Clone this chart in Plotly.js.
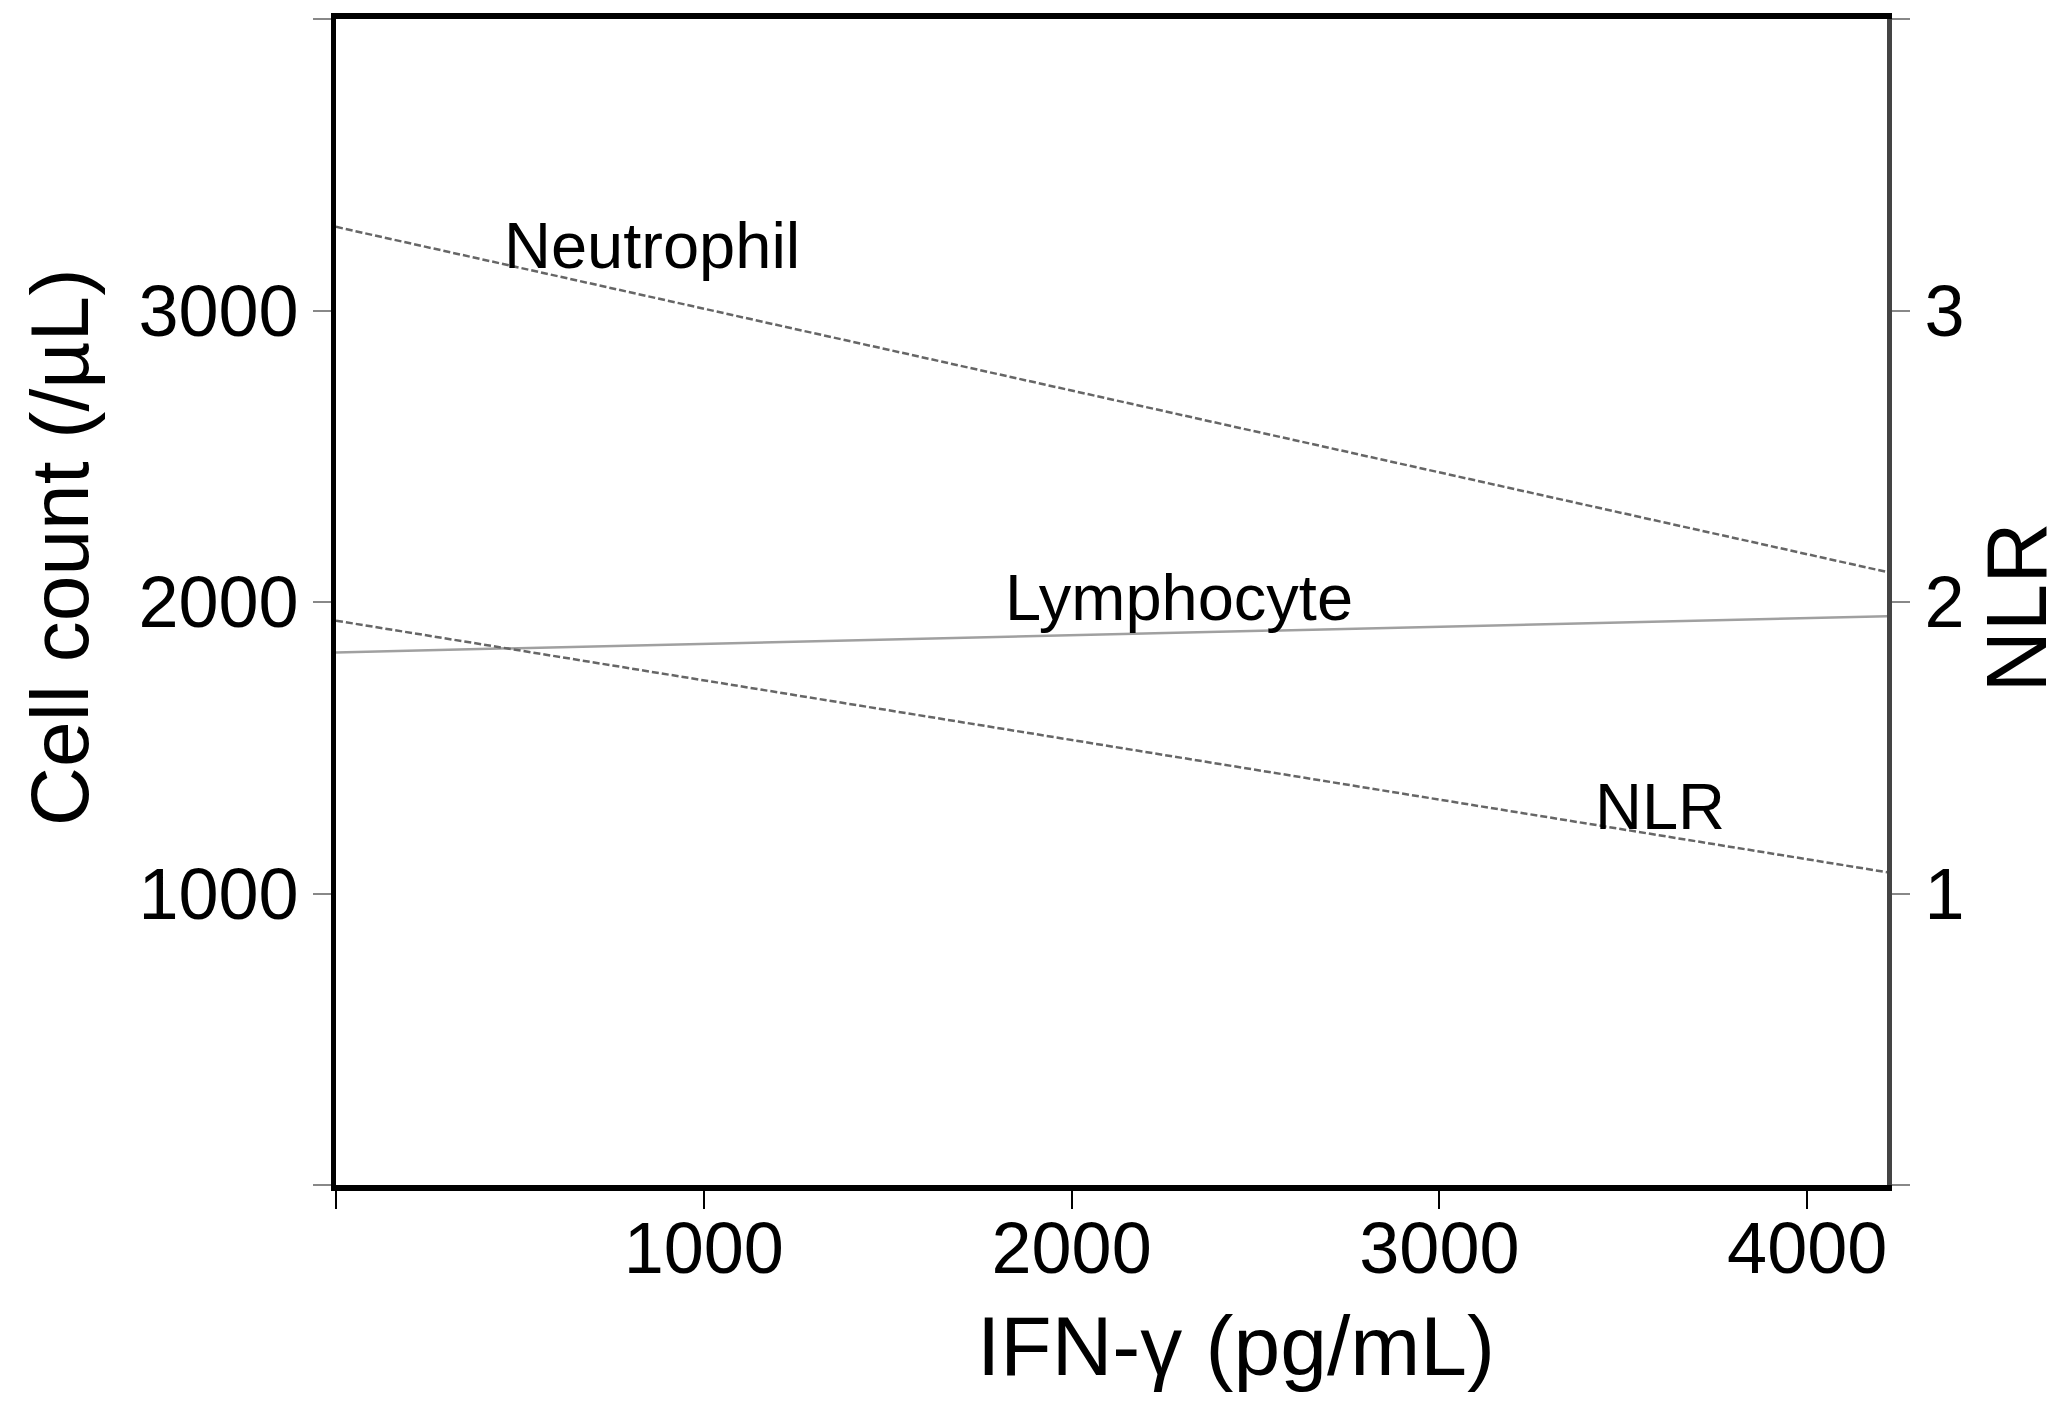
<!DOCTYPE html>
<html>
<head>
<meta charset="utf-8">
<script src="https://cdn.plot.ly/plotly-3.0.1.min.js"></script>
<style>html,body{margin:0;padding:0;background:#fff;}#chart{width:2068px;height:1408px;}</style>
</head>
<body>
<div id="chart"></div>
<script>
// Data
const ifnGamma = [0, 4217];            // IFN-γ (pg/mL), x range of the fitted lines
const neutrophil = [3287, 2103];       // cell count (/µL)
const lymphocyte = [1827, 1951];       // cell count (/µL)
const nlr = [1.936, 1.073];            // NLR (right axis)
const xTicks = [0, 1000, 2000, 3000, 4000];
const xTickText = ['', '1000', '2000', '3000', '4000'];
const yTicks = [0, 1000, 2000, 3000, 4000];
const yTickText = ['', '1000', '2000', '3000', ''];
const y2Ticks = [0, 1, 2, 3, 4];
const y2TickText = ['', '1', '2', '3', ''];
const seriesLabels = ['Neutrophil', 'Lymphocyte', 'NLR'];
const axisTitles = ['IFN-γ (pg/mL)', 'Cell count (/µL)', 'NLR'];

const FONT = 'Liberation Sans, Arial, sans-serif';

const traces = [
  {x: ifnGamma, y: neutrophil, mode: 'lines', name: seriesLabels[0],
   line: {color: '#666', width: 2.5, dash: '7px,3px'}},
  {x: ifnGamma, y: lymphocyte, mode: 'lines', name: seriesLabels[1],
   line: {color: '#a0a0a0', width: 2.5}},
  {x: ifnGamma, y: nlr, mode: 'lines', name: seriesLabels[2], yaxis: 'y2',
   line: {color: '#666', width: 2.5, dash: '7px,3px'}}
];

const layout = {
  width: 2068, height: 1408,
  paper_bgcolor: '#fff', plot_bgcolor: '#fff',
  showlegend: false,
  margin: {l: 336, r: 181, t: 19, b: 223},
  font: {family: FONT, color: '#000'},
  xaxis: {
    range: [0, 4217], tickvals: xTicks, ticktext: xTickText,
    showgrid: false, zeroline: false,
    showline: true, linecolor: '#000', linewidth: 6, mirror: true,
    ticks: 'outside', ticklen: 18, tickwidth: 2, tickcolor: '#000',
    ticklabelstandoff: -22,
    tickfont: {size: 72, family: FONT, color: '#000'}
  },
  yaxis: {
    range: [0, 4000], tickvals: yTicks, ticktext: yTickText,
    showgrid: false, zeroline: false,
    showline: true, linecolor: '#000', linewidth: 5,
    ticks: 'outside', ticklen: 18, tickwidth: 2, tickcolor: '#888',
    tickfont: {size: 72, family: FONT, color: '#000'}
  },
  yaxis2: {
    overlaying: 'y', side: 'right',
    range: [0, 4], tickvals: y2Ticks, ticktext: y2TickText,
    showgrid: false, zeroline: false,
    showline: true, linecolor: '#444', linewidth: 5,
    ticks: 'outside', ticklen: 18, tickwidth: 2, tickcolor: '#888',
    tickfont: {size: 72, family: FONT, color: '#000'}
  },
  annotations: [
    {x: 858, y: 3223, xref: 'x', yref: 'y', text: seriesLabels[0], showarrow: false,
     font: {size: 65, family: FONT, color: '#000'}},
    {x: 2292, y: 2016, xref: 'x', yref: 'y', text: seriesLabels[1], showarrow: false,
     font: {size: 65, family: FONT, color: '#000'}},
    {x: 3600, y: 1.297, xref: 'x', yref: 'y2', text: seriesLabels[2], showarrow: false,
     font: {size: 65, family: FONT, color: '#000'}},
    // axis titles
    {x: 0.580, y: -0.138, xref: 'paper', yref: 'paper', text: axisTitles[0], showarrow: false,
     xanchor: 'center', yanchor: 'middle', font: {size: 84, family: FONT, color: '#000'}},
    {x: -0.1786, y: 0.547, xref: 'paper', yref: 'paper', text: axisTitles[1], showarrow: false,
     textangle: -90, xanchor: 'center', yanchor: 'middle', font: {size: 82, family: FONT, color: '#000'}},
    {x: 1.0832, y: 0.4953, xref: 'paper', yref: 'paper', text: axisTitles[2], showarrow: false,
     textangle: -90, xanchor: 'center', yanchor: 'middle', font: {size: 85, family: FONT, color: '#000'}}
  ]
};

Plotly.newPlot('chart', traces, layout, {displayModeBar: false, staticPlot: true});
</script>
</body>
</html>
